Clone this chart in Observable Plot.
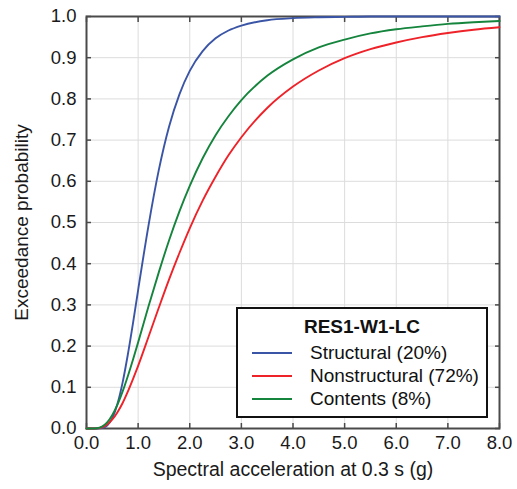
<!DOCTYPE html>
<html>
<head>
<meta charset="utf-8">
<script src="https://cdn.jsdelivr.net/npm/d3@7"></script>
<script src="https://cdn.jsdelivr.net/npm/@observablehq/plot@0.6"></script>
<style>
  body { margin: 0; background: #fff; }
  #wrap { position: relative; width: 517px; height: 489px; font-family: "Liberation Sans", Arial, sans-serif; }
  #legend { position: absolute; left: 236px; top: 307px; width: 248px; height: 107px; border: 2px solid #111; background: #fff; box-sizing: content-box; color: #111; }
  #legend .title { position: absolute; left: 0; right: 0; top: 7px; text-align: center; font-weight: bold; font-size: 19px; }
  #legend .row { position: absolute; left: 14px; font-size: 19px; white-space: nowrap; }
  #legend .sw { display: inline-block; width: 40px; height: 0; border-top: 2.5px solid; vertical-align: middle; margin-right: 18px; position: relative; top: -1px; }
</style>
</head>
<body>
<div id="wrap"></div>
<script>
const seriesNames = ["Structural (20%)", "Nonstructural (72%)", "Contents (8%)"];
const seriesColors = ["#3b55a6", "#ee2229", "#15843c"];
const legendTitle = "RES1-W1-LC";
const xLabel = "Spectral acceleration at 0.3 s (g)";
const yLabel = "Exceedance probability";
const xTicks = [0, 1, 2, 3, 4, 5, 6, 7, 8];
const yTicks = [0, 0.1, 0.2, 0.3, 0.4, 0.5, 0.6, 0.7, 0.8, 0.9, 1.0];

const sa = [0,0.1,0.2,0.3,0.4,0.5,0.6,0.7,0.8,0.9,1.0,1.2,1.4,1.6,1.8,2.0,2.25,2.5,2.75,3.0,3.5,4.0,4.5,5.0,5.5,6.0,6.5,7.0,7.5,8.0];
const structural = [0,0,0,0.001,0.007,0.025,0.060,0.112,0.179,0.255,0.336,0.492,0.627,0.733,0.811,0.868,0.916,0.947,0.966,0.978,0.991,0.996,0.998,0.999,1,1,1,1,1,1];
const nonstructural = [0,0,0.0004,0.003,0.0098,0.022,0.0396,0.062,0.0895,0.120,0.152,0.222,0.293,0.362,0.426,0.486,0.553,0.611,0.663,0.707,0.778,0.830,0.869,0.899,0.921,0.937,0.950,0.960,0.968,0.974];
const contents = [0,0,0.0007,0.0046,0.0148,0.033,0.058,0.090,0.127,0.167,0.209,0.296,0.379,0.457,0.527,0.589,0.656,0.712,0.758,0.797,0.856,0.896,0.925,0.944,0.959,0.969,0.976,0.982,0.986,0.989];

const allSeries = [structural, nonstructural, contents];
const rows = [];
allSeries.forEach((vals, i) => vals.forEach((v, j) => rows.push({x: sa[j], y: v, s: seriesNames[i]})));

const fmt = d3.format(".1f");
const frameColor = "#4a4a4a";

const chart = Plot.plot({
  width: 517,
  height: 489,
  marginLeft: 86,
  marginRight: 18,
  marginTop: 16,
  marginBottom: 61,
  style: {fontFamily: "Liberation Sans, Arial, sans-serif", fontSize: "18.5px", color: "#1a1a1a", background: "#fff"},
  x: {domain: [0, 8]},
  y: {domain: [0, 1]},
  color: {domain: seriesNames, range: seriesColors},
  marks: [
    Plot.gridX(xTicks, {stroke: "#dcdcdc", strokeOpacity: 1, strokeWidth: 1}),
    Plot.gridY(yTicks, {stroke: "#dcdcdc", strokeOpacity: 1, strokeWidth: 1}),
    Plot.axisX(xTicks, {anchor: "bottom", tickFormat: fmt, tickSize: 0, tickPadding: 7, label: null, fill: "#1a1a1a", fontSize: 18.5}),
    Plot.axisY(yTicks, {anchor: "left", tickFormat: fmt, tickSize: 0, tickPadding: 10, label: null, fill: "#1a1a1a", fontSize: 18.5}),
    Plot.axisX({anchor: "bottom", ticks: [], label: xLabel, labelAnchor: "center", labelOffset: 47, labelArrow: "none", fontSize: 19.5}),
    Plot.axisY({anchor: "left", ticks: [], label: yLabel, labelAnchor: "center", labelOffset: 72, labelArrow: "none", fontSize: 19}),
    Plot.axisX(xTicks, {anchor: "bottom", text: null, tickSize: -5, stroke: frameColor, strokeWidth: 1.5, label: null}),
    Plot.axisX(xTicks, {anchor: "top", text: null, tickSize: -5, stroke: frameColor, strokeWidth: 1.5, label: null}),
    Plot.axisY(yTicks, {anchor: "left", text: null, tickSize: -5, stroke: frameColor, strokeWidth: 1.5, label: null}),
    Plot.axisY(yTicks, {anchor: "right", text: null, tickSize: -5, stroke: frameColor, strokeWidth: 1.5, label: null}),
    Plot.frame({stroke: frameColor, strokeWidth: 2}),
    Plot.line(rows, {x: "x", y: "y", stroke: "s", z: "s", strokeWidth: 1.9, curve: "monotone-x"})
  ]
});

const wrap = document.getElementById("wrap");
wrap.appendChild(chart);

const legend = document.createElement("div");
legend.id = "legend";
const t = document.createElement("div");
t.className = "title";
t.textContent = legendTitle;
legend.appendChild(t);
const rowTops = [33, 56, 79];
seriesNames.forEach((name, i) => {
  const r = document.createElement("div");
  r.className = "row";
  r.style.top = rowTops[i] + "px";
  const sw = document.createElement("span");
  sw.className = "sw";
  sw.style.borderTopColor = seriesColors[i];
  r.appendChild(sw);
  r.appendChild(document.createTextNode(name));
  legend.appendChild(r);
});
wrap.appendChild(legend);
</script>
</body>
</html>
